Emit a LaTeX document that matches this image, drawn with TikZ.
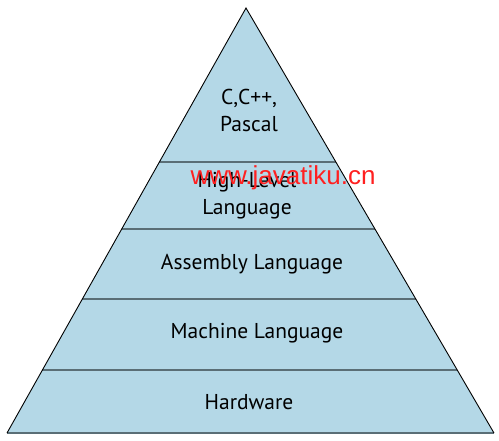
\documentclass[tikz,border=0pt]{standalone}
\usepackage{fontspec}
\setmainfont{PT Sans}
\newfontfamily\wmfont{Liberation Sans}
\definecolor{pyrfill}{HTML}{B4D8E7}
\definecolor{sepcol}{HTML}{5A6E76}
\definecolor{wmred}{HTML}{FF2020}
\begin{document}
\begin{tikzpicture}[x=1pt,y=-1pt,
  lbl/.style={font=\fontsize{21.5}{27}\selectfont, align=center, inner sep=0pt},
  sep/.style={draw=sepcol, line width=1.3pt}]
\useasboundingbox (0,0) rectangle (499,440);
\coordinate (apex) at (246,8);
\coordinate (bl) at (7,433);
\coordinate (br) at (494,433);
\fill[pyrfill] (apex) -- (bl) -- (br) -- cycle;
% separators
\foreach \yy/\nm in {162/a,229/b,299/c,370/d}{
  \path (apex) -- (bl) coordinate[pos={(\yy-8)/425}] (L\nm);
  \path (apex) -- (br) coordinate[pos={(\yy-8)/425}] (R\nm);
  \draw[sep] (L\nm) -- (R\nm);
}
\draw[sepcol, line width=1.3pt] (bl) -- (br);
\draw[black, line width=0.9pt, line join=miter] (bl) -- (apex) -- (br);
\node[lbl] (t1) at (249,110) {C,C++,\\Pascal};
\node[lbl] (t2) at (247,196) {High-Level\\Language};
\node[lbl] (t3) at (252,264) {Assembly Language};
\node[lbl] (t4) at (257,333) {Machine Language};
\node[lbl] (t5) at (249,402) {Hardware};
\node[font=\wmfont\fontsize{26}{26}\selectfont, text=wmred, inner sep=0pt] (wm) at (283,178) {www.javatiku.cn};
\end{tikzpicture}
\end{document}
